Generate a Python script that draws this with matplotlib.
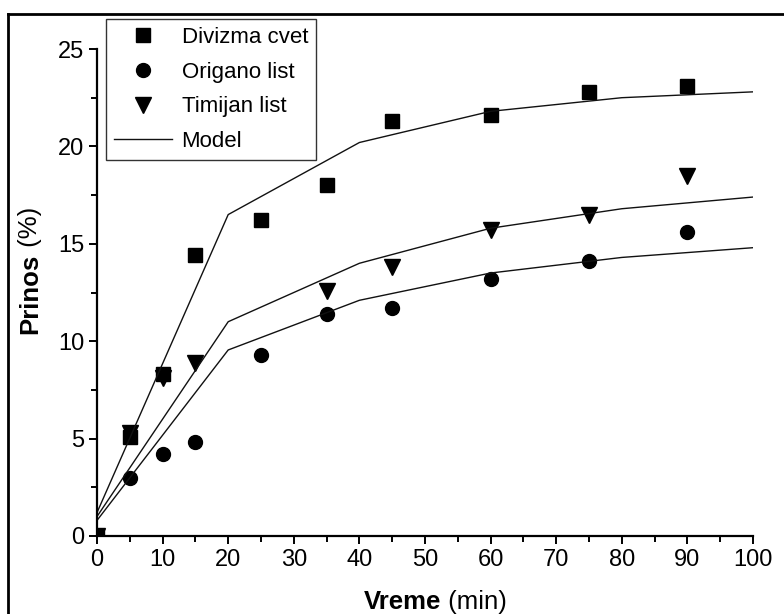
import matplotlib
matplotlib.use("Agg")
import matplotlib.pyplot as plt
from matplotlib import font_manager
from matplotlib.lines import Line2D
from matplotlib.ticker import MultipleLocator

names = {f.name for f in font_manager.fontManager.ttflist}
if 'Liberation Sans Narrow' in names:
    FONT = 'Liberation Sans Narrow'
    fs_tick, fs_leg, fs_lab = 20, 18.5, 21
else:
    FONT = 'Liberation Sans'
    fs_tick, fs_leg, fs_lab = 17, 16, 18.5
plt.rcParams['font.family'] = [FONT, 'DejaVu Sans']

# measured points
t_div = [0, 5, 10, 15, 25, 35, 45, 60, 75, 90]
y_div = [0, 5.1, 8.3, 14.4, 16.2, 18.0, 21.3, 21.6, 22.8, 23.1]
t_ori = [0, 5, 10, 15, 25, 35, 45, 60, 75, 90]
y_ori = [0, 3.0, 4.2, 4.8, 9.3, 11.4, 11.7, 13.2, 14.1, 15.6]
t_tim = [0, 5, 10, 15, 35, 45, 60, 75, 90]
y_tim = [0, 5.3, 8.1, 8.9, 12.6, 13.8, 15.7, 16.5, 18.5]

# model curves
t_mod = [0, 20, 40, 60, 80, 100]
m_div = [1.2, 16.5, 20.2, 21.8, 22.5, 22.8]
m_ori = [0.8, 9.55, 12.1, 13.5, 14.3, 14.8]
m_tim = [1.0, 11.0, 14.0, 15.8, 16.8, 17.4]

fig = plt.figure(figsize=(7.84, 6.14), dpi=100)
ax = fig.add_axes([97/784, 1-536/614, 656/784, 487/614])

ax.plot(t_div, y_div, 's', color='black', markersize=9.5, label='Divizma cvet')
ax.plot(t_ori, y_ori, 'o', color='black', markersize=10, label='Origano list')
ax.plot(t_tim, y_tim, 'v', color='black', markersize=11, label='Timijan list')
ax.plot(t_mod, m_div, '-', color='#111111', lw=1, label='Model')
ax.plot(t_mod, m_ori, '-', color='#111111', lw=1)
ax.plot(t_mod, m_tim, '-', color='#111111', lw=1)

ax.set_xlim(0, 100)
ax.set_ylim(0, 25)
ax.xaxis.set_major_locator(MultipleLocator(10))
ax.xaxis.set_minor_locator(MultipleLocator(5))
ax.yaxis.set_major_locator(MultipleLocator(5))
ax.yaxis.set_minor_locator(MultipleLocator(2.5))
ax.spines['top'].set_visible(False)
ax.spines['right'].set_visible(False)
ax.spines['left'].set_linewidth(1.6)
ax.spines['bottom'].set_linewidth(1.6)
ax.tick_params(which='major', direction='out', length=6, width=1.4,
               labelsize=fs_tick, pad=3)
ax.tick_params(which='minor', direction='out', length=4, width=1.4)

# axis titles: bold word + normal unit
fig.text(441/784, 1-602/614, 'Vreme', fontsize=fs_lab, fontweight='bold',
         ha='right', va='center')
fig.text(441/784, 1-602/614, ' (min)', fontsize=fs_lab, ha='left', va='center')
fig.text(30/784, 1-254/614, 'Prinos', fontsize=fs_lab, fontweight='bold',
         rotation=90, ha='center', va='top')
fig.text(30/784, 1-254/614, ' (%)', fontsize=fs_lab, rotation=90,
         ha='center', va='bottom')

leg = ax.legend(loc='upper left', bbox_to_anchor=(106/784, 1-19/614),
                bbox_transform=fig.transFigure, fontsize=fs_leg, frameon=True,
                fancybox=False, edgecolor='#333333', framealpha=1,
                handlelength=2.6, labelspacing=0.62, borderpad=0.35,
                handletextpad=0.45, borderaxespad=0)
leg.get_frame().set_linewidth(1.0)

# frame lines of the figure (left and top)
fig.add_artist(Line2D([8/784, 8/784], [0, 1-14/614], color='black', lw=2,
                      transform=fig.transFigure))
fig.add_artist(Line2D([8/784, 1], [1-14/614, 1-14/614], color='black', lw=2,
                      transform=fig.transFigure))

fig.savefig('out.png', dpi=100)
